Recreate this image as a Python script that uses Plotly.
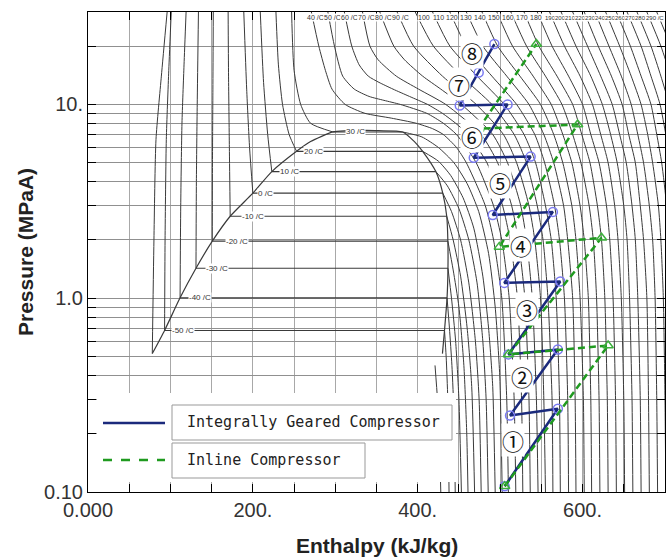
import math
import plotly.graph_objects as go

# ---------------- axis ticks ----------------
X_TICK_VALUES = list(range(0, 701, 50))
X_TICK_TEXT = {0: "0.000", 200: "200.", 400: "400.", 600: "600."}
Y_TICK_VALUES = [0.1, 0.2, 0.3, 0.4, 0.5, 0.6, 0.7, 0.8, 0.9,
                 1, 2, 3, 4, 5, 6, 7, 8, 9, 10, 20, 30]
Y_TICK_TEXT = {0.1: "0.10", 1: "1.0", 10: "10."}

# ---------------- saturation dome (h kJ/kg, P MPa) ----------------
SAT_LIQ_H = [78, 92.9, 111.7, 131.0, 150.8, 172.5, 200.0, 223.0, 253.0, 270.0, 297.0, 314.0, 332.0]
SAT_LIQ_P = [0.518, 0.682, 1.0045, 1.428, 1.97, 2.649, 3.485, 4.502, 5.729, 6.434, 7.214, 7.32, 7.377]
SAT_VAP_H = [332.0, 352.0, 381.5, 396.0, 406.0, 422.0, 430.4, 435.2, 436.6, 436.7, 435.6, 432.5, 430.0]
SAT_VAP_P = [7.377, 7.32, 7.214, 6.434, 5.729, 4.502, 3.485, 2.649, 1.97, 1.428, 1.0045, 0.682, 0.518]

# two-phase isotherms
TP_T = [-50, -40, -30, -20, -10, 0, 10, 20, 30]
TP_P = [0.682, 1.0045, 1.428, 1.97, 2.649, 3.485, 4.502, 5.729, 7.214]
TP_HL = [92.9, 111.7, 131.0, 150.8, 172.5, 200.0, 223.0, 253.0, 297.0]
TP_HV = [432.5, 435.6, 436.7, 436.6, 435.2, 430.4, 422.0, 406.0, 381.5]

# liquid-side isotherms
L_TRI_H = [78, 80, 82.5, 89, 96];            L_TRI_P = [0.518, 2.0, 6.6, 14, 30]
L_M50_H = [92.9, 93.5, 95, 98, 101];         L_M50_P = [0.682, 2, 6.6, 15, 30]
L_M40_H = [111.7, 112.5, 114, 116.5, 119];   L_M40_P = [1.0045, 3, 8, 16, 30]
L_M30_H = [131, 131.5, 132.5, 134];          L_M30_P = [1.428, 4, 10, 30]
L_M20_H = [150.8, 151, 151.5, 152];          L_M20_P = [1.97, 5, 12, 30]
L_M10_H = [172.5, 171.5, 170.5, 170];        L_M10_P = [2.649, 6, 14, 30]
L_000_H = [200, 196, 192.5, 189];            L_000_P = [3.485, 6, 12, 30]
L_010_H = [223, 218, 213, 209];              L_010_P = [4.502, 7, 13, 30]
L_020_H = [253, 244, 236, 231, 228];         L_020_P = [5.729, 7, 10, 16, 30]
L_030_H = [297, 270, 258, 250, 247];         L_030_P = [7.214, 8, 10, 15, 30]

# vapour-side isotherms (below critical temperature)
V_M60_H = [421, 424, 426, 428];                    V_M60_P = [0.45, 0.3, 0.2, 0.1]
V_M50_H = [432.5, 434.5, 436.5, 438];              V_M50_P = [0.682, 0.5, 0.3, 0.1]
V_M40_H = [435.6, 438.5, 441.5, 444, 445.5];       V_M40_P = [1.0045, 0.7, 0.45, 0.25, 0.1]
V_M30_H = [436.7, 441, 446, 450, 453];             V_M30_P = [1.428, 1.0, 0.6, 0.3, 0.1]
V_M20_H = [436.6, 443, 450, 456, 459.5, 461];      V_M20_P = [1.97, 1.4, 0.9, 0.45, 0.2, 0.1]
V_M10_H = [435.2, 443, 452, 460, 465.5, 469];      V_M10_P = [2.649, 2.0, 1.3, 0.7, 0.35, 0.1]
V_000_H = [430.4, 441, 452, 462, 470, 474.5, 477]; V_000_P = [3.485, 2.8, 2.0, 1.2, 0.6, 0.3, 0.1]
V_010_H = [422, 436, 450, 462, 472, 479, 483, 485.5]
V_010_P = [4.502, 3.8, 2.9, 2.0, 1.2, 0.6, 0.3, 0.1]
V_020_H = [406, 425, 440, 455, 468, 479, 486, 491, 494]
V_020_P = [5.729, 5.1, 4.3, 3.3, 2.3, 1.3, 0.7, 0.35, 0.1]
V_030_H = [381.5, 405, 425, 444, 460, 474, 486, 494, 499.5, 502.5]
V_030_P = [7.214, 6.8, 6.0, 5.0, 3.9, 2.8, 1.7, 0.9, 0.4, 0.1]

# supercritical isotherms near the critical point
S_040_P = [0.1, 0.3, 1, 2, 3, 5, 6, 7, 7.5, 8, 8.5, 9, 10, 12, 15, 20, 30]
S_040_H = [510, 508, 502, 492, 482, 459, 447, 431, 418, 398, 368, 336, 312, 296, 288, 280, 271]
S_050_P = [0.1, 0.3, 1, 2, 3, 5, 7, 8, 9, 10, 10.5, 11, 12, 14, 20, 30]
S_050_H = [519, 517, 511, 502, 492, 471, 447, 431, 411, 379, 359, 341, 323, 309, 299, 291]
S_060_P = [0.1, 0.3, 1, 2, 3, 5, 7, 8, 9, 10, 11, 12, 13, 14, 16, 20, 30]
S_060_H = [527.5, 526, 521, 512, 503, 484, 461, 446, 430, 412, 390, 370, 353, 340, 329, 320, 311]
S_070_P = [0.1, 0.3, 1, 2, 3, 5, 7, 10, 12, 14, 17, 20, 30]
S_070_H = [536.5, 535, 530, 522, 514, 497, 477, 434, 401, 374, 352, 342, 333]
S_080_P = [0.1, 0.3, 1, 2, 3, 5, 7, 10, 12, 14, 17, 20, 30]
S_080_H = [546, 544, 539, 532, 525, 509, 491, 453, 428, 406, 384, 371, 354]

# hotter isotherms on a common pressure grid
P_GRID = [0.1, 0.3, 1, 2, 3, 5, 7, 10, 14, 20, 30]
H_090 = [555, 553, 549, 542, 535, 520, 504, 471, 430, 395, 375]
H_100 = [564, 563, 558, 552, 545, 532, 517, 490, 453, 419, 397]
H_110 = [573, 572, 568, 562, 555, 543, 529, 505, 472, 439, 418]
H_120 = [583, 582, 578, 572, 566, 554, 542, 520, 490, 459, 439]
H_130 = [592, 591, 588, 582, 577, 565, 553, 535, 508, 479, 459]
H_140 = [602, 601, 597, 592, 587, 576, 565, 549, 524, 497, 478]
H_150 = [611, 610, 607, 602, 597, 587, 576, 562, 540, 515, 496]
H_160 = [621, 620, 617, 613, 608, 598, 588, 575, 555, 532, 513]
H_170 = [631, 630, 627, 623, 618, 609, 599, 588, 569, 547, 529]
H_180 = [641, 640, 637, 633, 629, 620, 610, 600, 583, 563, 545]
H_190 = [651, 650, 647, 643, 639, 631, 622, 612, 597, 578, 560]
H_200 = [661, 660, 657, 654, 650, 642, 634, 624, 610, 592, 574]
H_210 = [671, 670, 667, 664, 660, 653, 645, 636, 622, 606, 588]
H_220 = [681, 680, 678, 674, 670, 664, 656, 648, 635, 619, 602]
H_230 = [691, 690, 688, 685, 681, 674, 667, 659, 647, 632, 615]
H_240 = [701, 700, 698, 695, 692, 685, 679, 671, 659, 645, 628]
H_250 = [711, 710, 708, 705, 702, 696, 690, 683, 671, 658, 641]
H_260 = [721, 721, 719, 716, 713, 707, 701, 694, 683, 671, 654]
H_270 = [731, 731, 729, 726, 723, 718, 712, 705, 695, 683, 666]
H_280 = [742, 741, 739, 737, 734, 729, 723, 717, 707, 695, 678]
H_290 = [752, 752, 750, 747, 745, 740, 735, 728, 719, 707, 690]

TOP_LABEL_T = [40, 50, 60, 70, 80, 90, 100, 110, 120, 130, 140, 150, 160, 170,
               180, 190, 200, 210, 220, 230, 240, 250, 260, 270, 280, 290]

# ---------------- compressor paths ----------------
IG_H = [505.5, 570, 512, 570, 510, 573, 505, 564, 491, 537, 468, 509, 451, 474, 493]
IG_P = [0.107, 0.269, 0.248, 0.544, 0.513, 1.22, 1.20, 2.79, 2.69, 5.38, 5.31, 10.0, 9.88, 14.6, 20.5]
INL_H = [505.5, 631, 510, 623, 499, 594, 474, 544]
INL_P = [0.107, 0.57, 0.513, 2.05, 1.84, 7.88, 7.5, 20.5]
STAGE_TEXT = ["①", "②", "③", "④", "⑤", "⑥", "⑦", "⑧"]

SERIES_NAMES = ["Integrally Geared Compressor", "Inline Compressor"]

# ---------------- styling / layout ----------------
W, H = 669, 559
ML, MR, MT, MB = 88, 4, 12, 67
PW, PH = W - ML - MR, H - MT - MB
ISO_COLOR = "#3a3a3a"
XGRID_COLOR = "#a8a8a8"
YGRID_COLOR = "#909090"
BLUE = "#1b2a7c"
GREEN = "#1f9a1f"
FONT = "Liberation Sans, Arial, sans-serif"


def px_to_paper(px, py):
    return (px - ML) / PW, (H - MB - py) / PH


fig = go.Figure()


def add_curve(hs, ps, width=1.0, shape="spline"):
    fig.add_trace(go.Scatter(
        x=hs, y=ps, mode="lines",
        line=dict(color=ISO_COLOR, width=width, shape=shape, smoothing=0.6),
        hoverinfo="skip", showlegend=False))


liquid = [(L_TRI_H, L_TRI_P), (L_M50_H, L_M50_P), (L_M40_H, L_M40_P), (L_M30_H, L_M30_P),
          (L_M20_H, L_M20_P), (L_M10_H, L_M10_P), (L_000_H, L_000_P), (L_010_H, L_010_P),
          (L_020_H, L_020_P), (L_030_H, L_030_P)]
vapour = [(V_M60_H, V_M60_P), (V_M50_H, V_M50_P), (V_M40_H, V_M40_P), (V_M30_H, V_M30_P),
          (V_M20_H, V_M20_P), (V_M10_H, V_M10_P), (V_000_H, V_000_P), (V_010_H, V_010_P),
          (V_020_H, V_020_P), (V_030_H, V_030_P)]
supercrit = [(S_040_H, S_040_P), (S_050_H, S_050_P), (S_060_H, S_060_P),
             (S_070_H, S_070_P), (S_080_H, S_080_P)]
hot = [H_090, H_100, H_110, H_120, H_130, H_140, H_150, H_160, H_170, H_180, H_190,
       H_200, H_210, H_220, H_230, H_240, H_250, H_260, H_270, H_280, H_290]

for hs, ps in liquid + vapour + supercrit:
    add_curve(hs, ps)
for hs in hot:
    add_curve(hs, P_GRID)
for p, hl, hv in zip(TP_P, TP_HL, TP_HV):
    add_curve([hl, hv], [p, p], width=1.1, shape="linear")
add_curve(SAT_LIQ_H + SAT_VAP_H[1:], SAT_LIQ_P + SAT_VAP_P[1:], width=1.2)

# compressor paths
fig.add_trace(go.Scatter(
    x=IG_H, y=IG_P, mode="lines+markers", name=SERIES_NAMES[0],
    line=dict(color=BLUE, width=2.5),
    marker=dict(symbol="circle-open", size=9, color="#7a7af2", line=dict(width=1.5)),
    showlegend=False))
fig.add_trace(go.Scatter(
    x=INL_H, y=INL_P, mode="lines+markers", name=SERIES_NAMES[1],
    line=dict(color=GREEN, width=2.5, dash="7px,4px"),
    marker=dict(symbol="triangle-up-open", size=9, color="#3cb03c", line=dict(width=1.5)),
    showlegend=False))

annotations = []


def paper_text(px, py, text, font, **kw):
    xp, yp = px_to_paper(px, py)
    d = dict(x=xp, y=yp, xref="paper", yref="paper", text=text, showarrow=False,
             xanchor="center", yanchor="middle", font=font)
    d.update(kw)
    annotations.append(d)


# two-phase isotherm labels (x in data, placed just right of liquid line)
TP_LABEL_X = [115, 136, 156, 181, 200, 215, 245, 274, 324]
for t, p, lx in zip(TP_T, TP_P, TP_LABEL_X):
    annotations.append(dict(x=lx, y=math.log10(p), xref="x", yref="y", text=f"{t} /C",
                            xanchor="center", yanchor="middle",
                            showarrow=False, font=dict(size=8, color="#333", family=FONT),
                            bgcolor="white", borderpad=0))

# top isotherm labels
TOP_LABEL_PX = [315, 332, 349, 366, 383, 400, 424, 438, 452, 466, 480, 494, 508, 522,
                536, 550, 560, 570, 580, 590, 600, 610, 620, 630, 640, 655]
for t, lpx in zip(TOP_LABEL_T, TOP_LABEL_PX):
    txt = f"{t} /C" if (t < 100 or t == 290) else f"{t}"
    size = 7 if t < 190 else 6
    paper_text(lpx, 18, txt, dict(size=size, color="#333", family=FONT),
               bgcolor="white", borderpad=0)

# stage numbers
STAGE_PX = [(513, 440), (522, 376), (527, 309), (521, 245), (500, 182), (472, 136), (459, 84), (472, 52)]
for txt, (sx, sy) in zip(STAGE_TEXT, STAGE_PX):
    paper_text(sx, sy, txt, dict(size=22, color="#111", family="Noto Sans CJK JP"),
               bgcolor="white", borderpad=0)

# legend
shapes = []
x0, y0 = px_to_paper(97, 482); x1, y1 = px_to_paper(456, 393)
shapes.append(dict(type="rect", xref="paper", yref="paper", x0=x0, y0=y0, x1=x1, y1=y1,
                   fillcolor="white", line=dict(width=0), layer="above"))
for (bx0, by0, bx1, by1) in [(172, 405, 452, 440), (172, 443, 365, 478)]:
    a0, b0 = px_to_paper(bx0, by1); a1, b1 = px_to_paper(bx1, by0)
    shapes.append(dict(type="rect", xref="paper", yref="paper", x0=a0, y0=b0, x1=a1, y1=b1,
                       fillcolor="white", line=dict(color="#999", width=1), layer="above"))
for (ly, col, dash) in [(423, BLUE, "solid"), (460, GREEN, "dash")]:
    a0, b0 = px_to_paper(103, ly); a1, _ = px_to_paper(165, ly)
    shapes.append(dict(type="line", xref="paper", yref="paper", x0=a0, y0=b0, x1=a1, y1=b0,
                       line=dict(color=col, width=2.5, dash=dash), layer="above"))
for name, ly in zip(SERIES_NAMES, [422, 460]):
    paper_text(185, ly, name, dict(size=15, color="#222", family="DejaVu Sans Mono"),
               xanchor="left")

# axis titles
annotations.append(dict(x=0.5, y=0, xref="paper", yref="paper", text="<b>Enthalpy (kJ/kg)</b>",
                        showarrow=False, xanchor="center", yanchor="middle", yshift=-53,
                        font=dict(size=21, color="#222", family=FONT)))
annotations.append(dict(x=0, y=0.5, xref="paper", yref="paper", text="<b>Pressure (MPaA)</b>",
                        showarrow=False, xanchor="center", yanchor="middle", xshift=-63,
                        textangle=-90, font=dict(size=21, color="#222", family=FONT)))

fig.update_layout(
    width=W, height=H, margin=dict(l=ML, r=MR, t=MT, b=MB),
    paper_bgcolor="white", plot_bgcolor="white",
    showlegend=False, annotations=annotations, shapes=shapes,
    xaxis=dict(range=[0, 700], tickvals=X_TICK_VALUES,
               ticktext=[X_TICK_TEXT.get(v, "") for v in X_TICK_VALUES],
               showgrid=True, gridcolor=XGRID_COLOR, gridwidth=1, zeroline=False,
               showline=True, linecolor="black", linewidth=1, mirror="ticks",
               ticks="inside", ticklen=8, tickcolor="black",
               tickfont=dict(size=20, color="#333", family=FONT)),
    yaxis=dict(type="log", range=[-1, math.log10(30)], tickvals=Y_TICK_VALUES,
               ticktext=[Y_TICK_TEXT.get(v, "") for v in Y_TICK_VALUES],
               showgrid=True, gridcolor=YGRID_COLOR, gridwidth=1, zeroline=False,
               showline=True, linecolor="black", linewidth=1, mirror="ticks",
               ticks="inside", ticklen=8, tickcolor="black",
               tickfont=dict(size=20, color="#333", family=FONT)),
)

fig.write_html("out.html")
